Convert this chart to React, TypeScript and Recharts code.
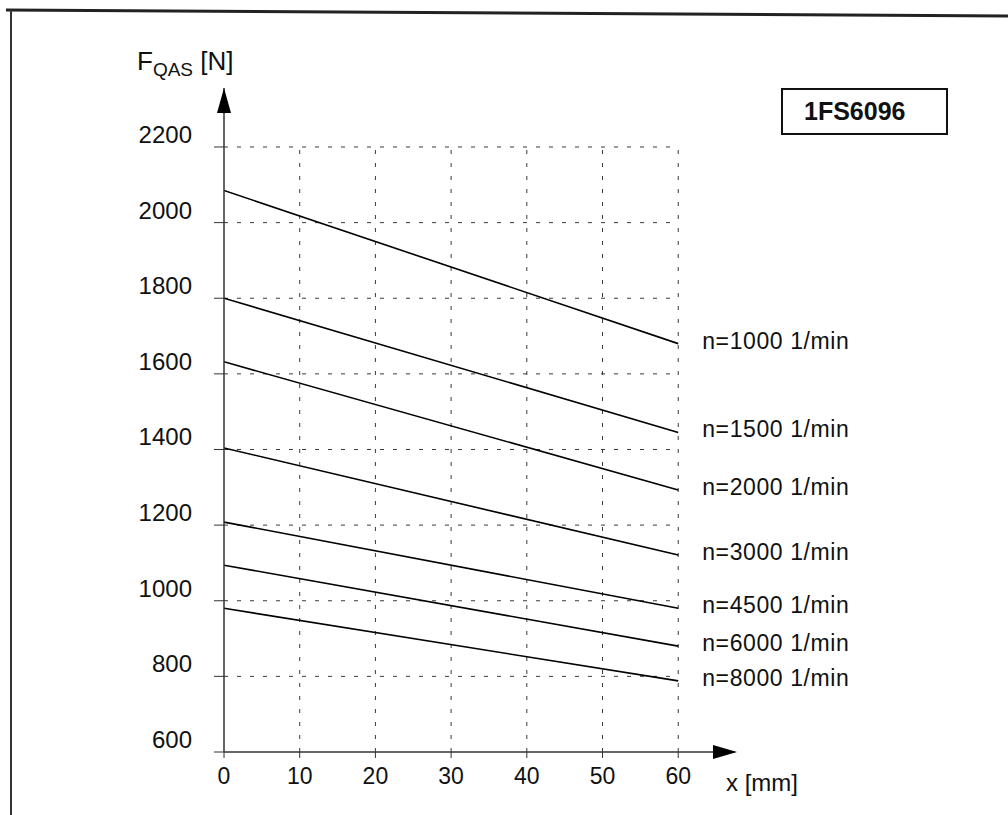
import { LineChart, Line, XAxis, YAxis, ReferenceLine, ReferenceDot } from "recharts";

const xPos = [0, 60];
const n1000 = [2085, 1680];
const n1500 = [1800, 1445];
const n2000 = [1632, 1293];
const n3000 = [1404, 1121];
const n4500 = [1208, 980];
const n6000 = [1094, 880];
const n8000 = [980, 788];

const xTicks = [0, 10, 20, 30, 40, 50, 60];
const yTicks = [600, 800, 1000, 1200, 1400, 1600, 1800, 2000, 2200];

const seriesList = [
  { key: "n1000", name: "n=1000 1/min", values: n1000 },
  { key: "n1500", name: "n=1500 1/min", values: n1500 },
  { key: "n2000", name: "n=2000 1/min", values: n2000 },
  { key: "n3000", name: "n=3000 1/min", values: n3000 },
  { key: "n4500", name: "n=4500 1/min", values: n4500 },
  { key: "n6000", name: "n=6000 1/min", values: n6000 },
  { key: "n8000", name: "n=8000 1/min", values: n8000 },
];

const data = xPos.map((x, i) => {
  const row: Record<string, number> = { x };
  seriesList.forEach((s) => (row[s.key] = s.values[i]));
  return row;
});

const FONT = "'Liberation Sans', Arial, Helvetica, sans-serif";
const X_MAX = 67.5;
const Y_MAX = 2356;
const gridColor = "#3a3a3a";

function YTick({ x, y, payload }: any) {
  return (
    <text x={x} y={y - 4} textAnchor="end" fontFamily={FONT} fontSize={24} fill="#111">
      {payload.value}
    </text>
  );
}

function XTick({ x, y, payload }: any) {
  return (
    <text x={x} y={y + 22} textAnchor="middle" fontFamily={FONT} fontSize={23} fill="#111">
      {payload.value}
    </text>
  );
}

const endLabel = (name: string) => (props: any) => {
  const { x, y, index } = props;
  if (index !== xPos.length - 1) return null;
  return (
    <text x={x + 24} y={y + 5} fontFamily={FONT} fontSize={23} letterSpacing={0.6} fill="#111">
      {name}
    </text>
  );
};

const upArrow = ({ cx, cy }: any) => (
  <path d={`M${cx},${cy} L${cx - 7},${cy + 25} L${cx + 7},${cy + 25} Z`} fill="#000" />
);
const rightArrow = ({ cx, cy }: any) => (
  <path d={`M${cx + 2},${cy} L${cx - 22},${cy - 7} L${cx - 22},${cy + 7} Z`} fill="#000" />
);

export default function App() {
  return (
    <div style={{ position: "absolute", left: 0, top: 0, width: 1008, height: 815, background: "#fff", overflow: "hidden" }}>
      <LineChart width={1008} height={815} data={data} margin={{ top: 88, right: 273, bottom: 23, left: 164 }}>
        <XAxis
          type="number"
          dataKey="x"
          domain={[0, X_MAX]}
          ticks={xTicks}
          allowDataOverflow
          height={40}
          tick={<XTick />}
          tickSize={6}
          tickMargin={4}
          axisLine={{ stroke: "#333", strokeWidth: 1.5 }}
          tickLine={{ stroke: "#333" }}
        />
        <YAxis
          type="number"
          domain={[600, Y_MAX]}
          ticks={yTicks}
          allowDataOverflow
          width={60}
          tick={<YTick />}
          tickSize={10}
          tickMargin={22}
          axisLine={{ stroke: "#333", strokeWidth: 1.5 }}
          tickLine={{ stroke: "#333" }}
        />
        {yTicks.slice(1).map((v) => (
          <ReferenceLine
            key={"h" + v}
            segment={[{ x: 0, y: v }, { x: 60, y: v }]}
            stroke={gridColor}
            strokeDasharray="4 9"
            strokeWidth={1}
          />
        ))}
        {xTicks.slice(1).map((v) => (
          <ReferenceLine
            key={"v" + v}
            segment={[{ x: v, y: 600 }, { x: v, y: 2200 }]}
            stroke={gridColor}
            strokeDasharray="4 9"
            strokeWidth={1}
          />
        ))}
        {seriesList.map((s) => (
          <Line
            key={s.key}
            type="linear"
            dataKey={s.key}
            stroke="#000"
            strokeWidth={1.6}
            dot={false}
            label={endLabel(s.name)}
            isAnimationActive={false}
          />
        ))}
        <ReferenceDot x={0} y={Y_MAX} r={0} ifOverflow="visible" shape={upArrow} />
        <ReferenceDot x={X_MAX} y={600} r={0} ifOverflow="visible" shape={rightArrow} />
      </LineChart>

      {/* axis titles */}
      <div style={{ position: "absolute", left: 137, top: 46, fontFamily: FONT, fontSize: 26, color: "#111", whiteSpace: "nowrap" }}>
        F<span style={{ fontSize: 19, position: "relative", top: 6 }}>QAS</span> [N]
      </div>
      <div style={{ position: "absolute", left: 726, top: 769, fontFamily: FONT, fontSize: 24, color: "#111", whiteSpace: "nowrap" }}>
        x [mm]
      </div>

      {/* type box */}
      <div
        style={{
          position: "absolute",
          left: 781,
          top: 88,
          width: 167,
          height: 47,
          border: "2px solid #111",
          fontFamily: FONT,
          fontWeight: "bold",
          fontSize: 25,
          color: "#111",
          lineHeight: "43px",
          paddingLeft: 21,
          boxSizing: "border-box",
        }}
      >
        1FS6096
      </div>

      {/* scan frame */}
      <svg width={1008} height={815} style={{ position: "absolute", left: 0, top: 0, pointerEvents: "none" }}>
        <line x1={6} y1={10} x2={1008} y2={16} stroke="#222" strokeWidth={3} />
        <line x1={11} y1={10} x2={11} y2={815} stroke="#333" strokeWidth={2} />
      </svg>
    </div>
  );
}
